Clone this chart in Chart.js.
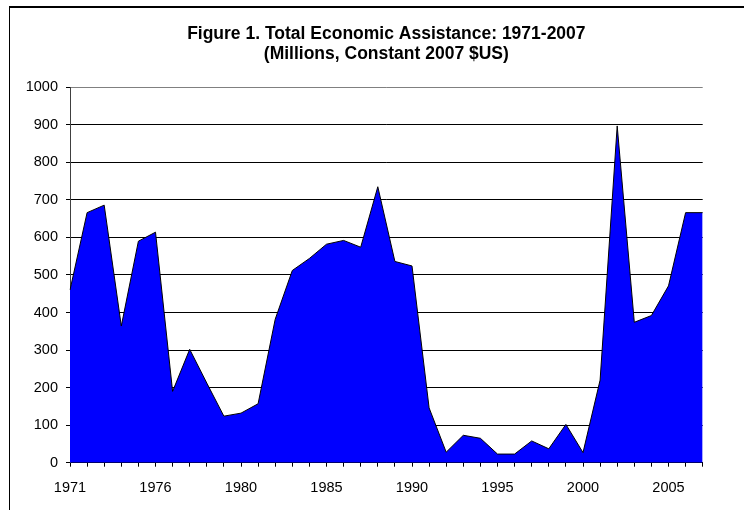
<!DOCTYPE html>
<html>
<head>
<meta charset="utf-8">
<script src="https://cdn.jsdelivr.net/npm/chart.js@4.4.1/dist/chart.umd.min.js"></script>
<style>
  html, body { margin: 0; padding: 0; background: #fff; overflow: hidden; }
  #wrap { position: relative; width: 744px; height: 510px; }
  #frame { position: absolute; left: 9px; top: 6px; width: 900px; height: 700px;
           border-left: 1px solid #000; border-top: 2px solid #000; box-sizing: border-box; }
  #cv { position: absolute; left: 0; top: 0; }
</style>
</head>
<body>
<div id="wrap">
  <div id="frame"></div>
  <canvas id="cv" width="744" height="510"></canvas>
</div>
<script>
/* Ajuda econômica total 1971-2007 (inclui o trimestre de transição 1976TQ) */
const categories = [
  '1971','1972','1973','1974','1975','1976','1976TQ','1977','1978','1979',
  '1980','1981','1982','1983','1984','1985','1986','1987','1988','1989',
  '1990','1991','1992','1993','1994','1995','1996','1997','1998','1999',
  '2000','2001','2002','2003','2004','2005','2006','2007'
];
const assistance = [
  460, 666, 686, 364, 590, 614, 190, 302, 212, 124,
  132, 157, 382, 512, 544, 582, 592, 574, 735, 536,
  524, 146, 28, 73, 65, 23, 23, 58, 37, 102,
  27, 220, 897, 374, 392, 471, 666, 666
];
const shownYears = ['1971','1976','1980','1985','1990','1995','2000','2005'];
const yTicks = [0, 100, 200, 300, 400, 500, 600, 700, 800, 900, 1000];

const FONT = "'Liberation Sans', Arial, sans-serif";

new Chart(document.getElementById('cv'), {
  type: 'line',
  data: {
    labels: categories,
    datasets: [{
      label: 'Total Economic Assistance',
      data: assistance,
      borderColor: '#000',
      borderWidth: 1,
      backgroundColor: '#0000ff',
      fill: 'origin',
      pointRadius: 0,
      tension: 0
    }]
  },
  options: {
    responsive: false,
    animation: false,
    devicePixelRatio: 1,
    layout: { padding: { top: 0, left: 0, right: 41.3, bottom: 0 } },
    plugins: {
      legend: { display: false },
      tooltip: { enabled: false },
      title: {
        display: true,
        fullSize: false,
        text: ['Figure 1. Total Economic Assistance: 1971-2007', '(Millions, Constant 2007 $US)'],
        color: '#000',
        font: { family: FONT, size: 17.5, weight: 'bold', lineHeight: 1.15 },
        padding: { top: 24, bottom: 23 }
      }
    },
    scales: {
      x: {
        offset: false,
        afterFit: s => { s.height = 47.3; },
        grid: { drawOnChartArea: false, drawTicks: true, tickLength: 4, color: '#000', tickColor: '#000' },
        border: { color: '#000', width: 1 },
        ticks: {
          autoSkip: false, maxRotation: 0, padding: 13, color: '#000',
          font: { family: FONT, size: 14.5 },
          callback: (v, i) => shownYears.includes(categories[i]) ? categories[i] : ''
        }
      },
      y: {
        min: 0, max: 1000,
        afterFit: s => { s.width = 70; },
        afterBuildTicks: s => { s.ticks = yTicks.map(v => ({ value: v })); },
        grid: {
          tickLength: 4,
          color: ctx => ctx.tick && ctx.tick.value === 1000 ? '#808080' : '#000',
          tickColor: '#000',
          lineWidth: 1
        },
        border: { color: '#404040', width: 1 },
        ticks: { padding: 8, color: '#000', font: { family: FONT, size: 14.5 }, callback: v => String(v) }
      }
    }
  }
});
</script>
</body>
</html>
